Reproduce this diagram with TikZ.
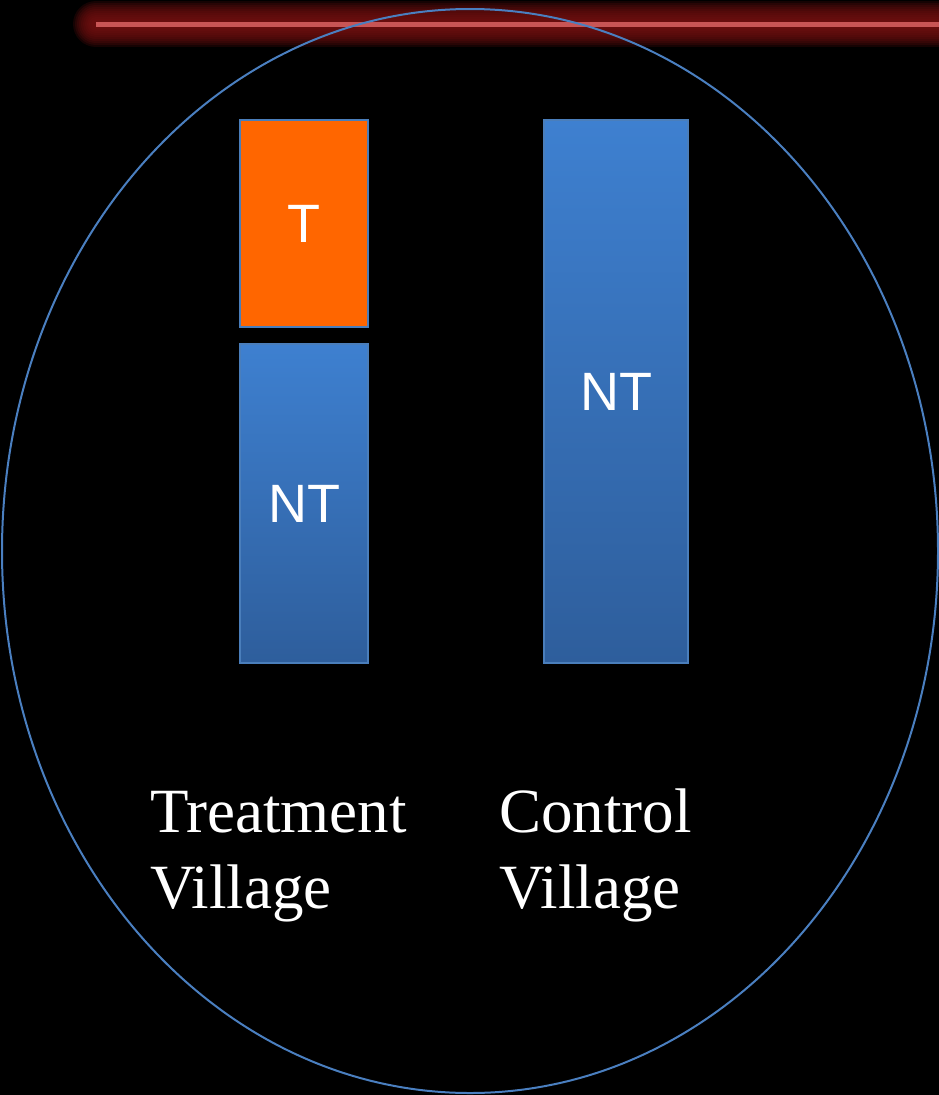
\documentclass[tikz,border=0pt]{standalone}
\usepackage{fontspec}
\setmainfont{Liberation Serif}
\newfontfamily\barfont{Liberation Sans}
\definecolor{glowRed}{HTML}{7A1212}
\definecolor{coreRed}{HTML}{C85555}
\definecolor{ringBlue}{HTML}{4A7FC0}
\definecolor{barTop}{HTML}{3E80D0}
\definecolor{barBot}{HTML}{2E5E9C}
\definecolor{barEdge}{HTML}{4A7EBB}
\definecolor{orangeT}{HTML}{FF6600}
\tikzset{
  barbox/.style={draw=barEdge, line width=1.5pt, inner sep=0pt, text=white,
    font=\barfont\fontsize{54}{60}\selectfont},
  bluebar/.style={barbox, top color=barTop, bottom color=barBot},
  orangebar/.style={barbox, fill=orangeT},
  glowline/.style={glowRed, line cap=round, draw opacity=0.18},
  lbl/.style={text=white, inner sep=0pt, font=\fontsize{63}{76}\selectfont, anchor=base west}
}
\begin{document}
\begin{tikzpicture}[x=1pt,y=-1pt]
\fill[black] (0,0) rectangle (939,1095);
\useasboundingbox (0,0) rectangle (939,1095);
% glowing red line
\coordinate (rl) at (96,24);
\coordinate (rr) at (950,24);
\foreach \w in {46,42,38,34,30,26,22,18,14,10}
  \draw[glowline, line width=\w pt] (rl) -- (rr);
\draw[coreRed, line width=5pt] (rl) -- (rr);
% ellipse
\draw[ringBlue, line width=2pt] (470,551) ellipse [x radius=468, y radius=542];
% bars
\node[orangebar, minimum width=128pt, minimum height=207pt] (t) at (304,223.5) {T};
\node[bluebar, minimum width=128pt, minimum height=319pt] (ntl) at (304,503.5) {NT};
\node[bluebar, minimum width=144pt, minimum height=543pt] (ntr) at (616,391.5) {NT};
% labels
\node[lbl] (tv1) at (150,832) {Treatment};
\node[lbl] (tv2) at (150,908) {Village};
\node[lbl] (cv1) at (499,832) {Control};
\node[lbl] (cv2) at (499,908) {Village};
\end{tikzpicture}
\end{document}
